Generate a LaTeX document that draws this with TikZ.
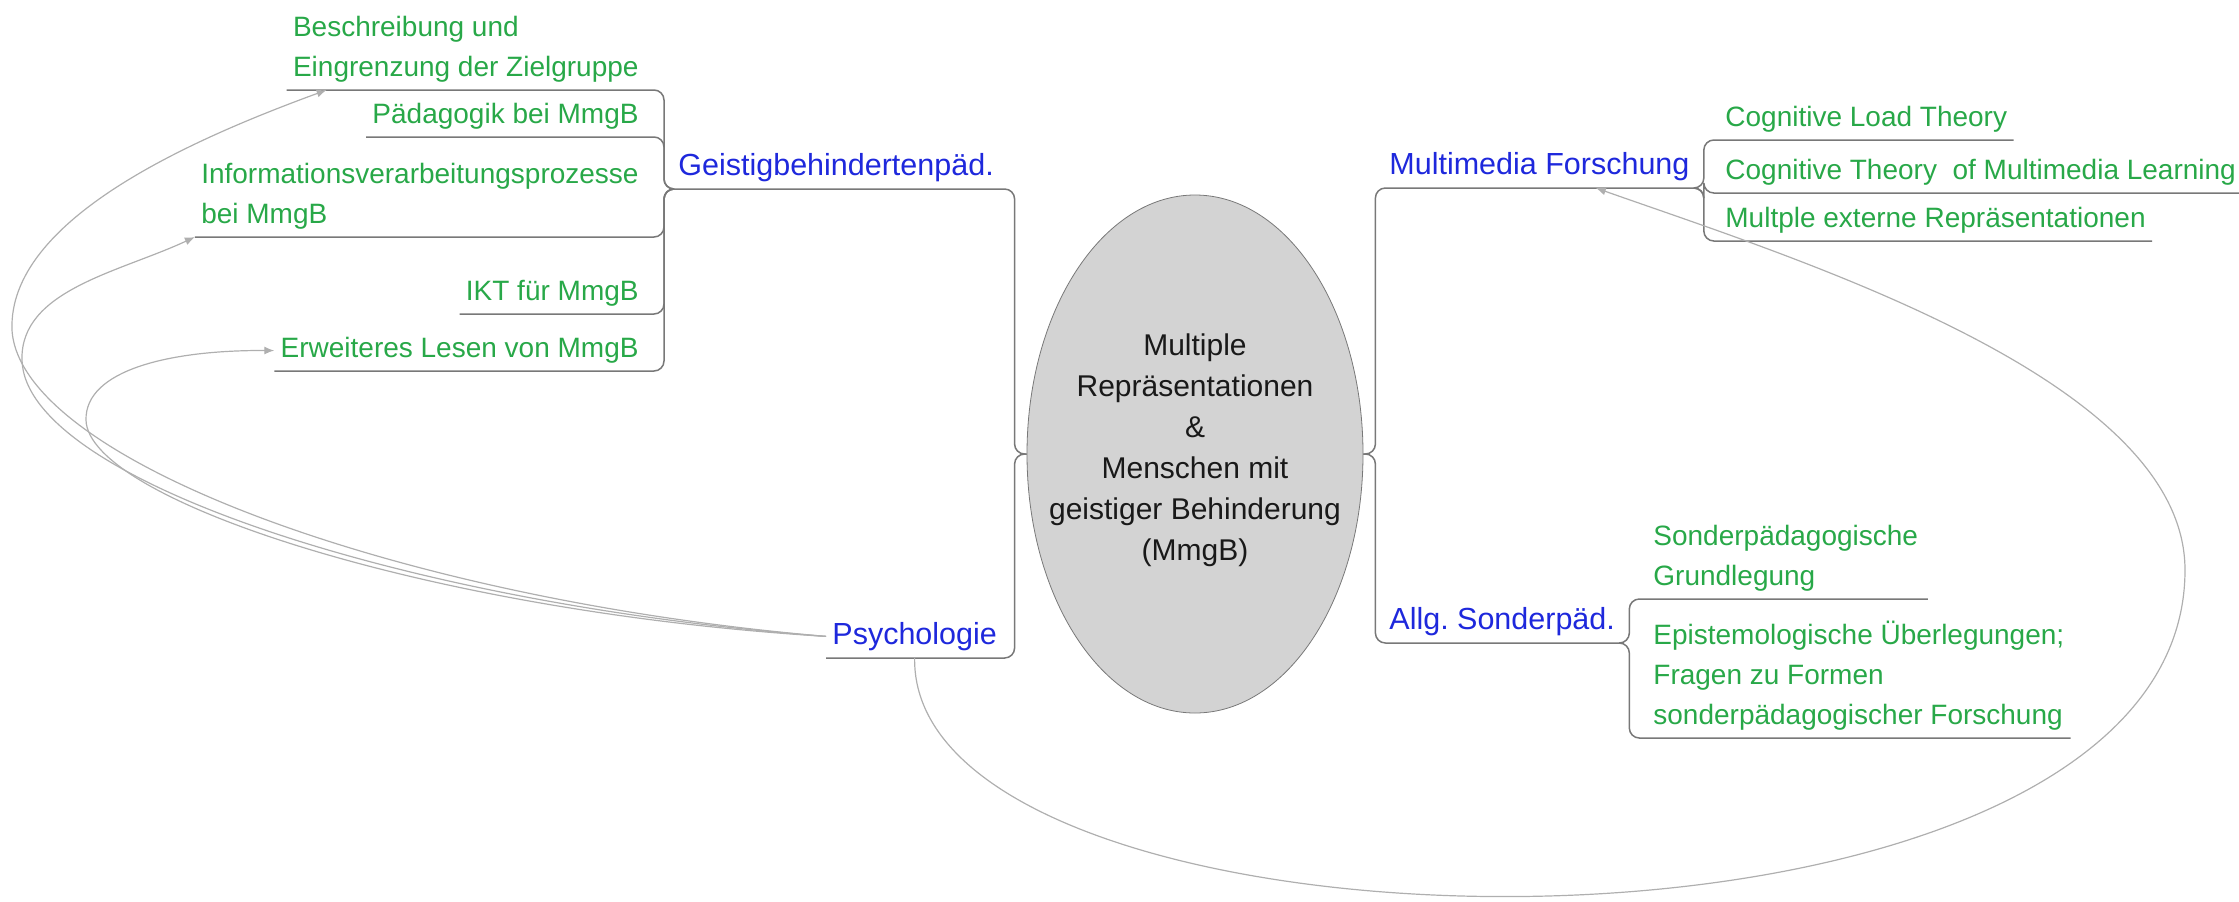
\documentclass[tikz,border=0pt]{standalone}
\usepackage{fontspec}
\setmainfont{Liberation Sans}
\usetikzlibrary{shapes.geometric,arrows.meta}
\definecolor{leafgreen}{RGB}{40,168,72}
\definecolor{topicblue}{RGB}{30,40,220}
\definecolor{centrefill}{RGB}{211,211,211}
\definecolor{branchgray}{RGB}{120,120,120}
\definecolor{relgray}{RGB}{175,175,175}
\frenchspacing

\begin{document}
\begin{tikzpicture}[x=0.5pt,y=-0.5pt,
    leaf/.style={text=leafgreen,font=\fontsize{14}{20}\selectfont,align=left,inner xsep=3pt,inner ysep=3.5pt},
    topic/.style={text=topicblue,font=\fontsize{15.25}{20}\selectfont,inner xsep=3pt,inner ysep=3.5pt},
    branch/.style={draw=branchgray,line width=0.75pt,rounded corners=5pt},
    relation/.style={draw=relgray,line width=0.6pt,-{Latex[length=5pt,width=4pt]}}]

    \useasboundingbox (0,0) rectangle (2239,901);

    \node[ellipse,draw=branchgray,fill=centrefill,minimum width=168pt,minimum height=259pt,inner sep=0pt] (ctr) at (1195,454) {};
    \node[align=center,font=\fontsize{15}{20.5}\selectfont,text=black!90] (ctrtext) at (1195,450) {Multiple\\Repräsentationen\\\&\\Menschen mit\\geistiger Behinderung\\(MmgB)};

    \node[topic,anchor=south west] (gbp) at (672,189) {Geistigbehindertenpäd.};
    \node[topic,anchor=south west] (psy) at (826,658) {Psychologie};
    \node[topic,anchor=south west] (mmf) at (1383,188) {Multimedia Forschung};
    \node[topic,anchor=south west] (asp) at (1383,643) {Allg. Sonderpäd.};

    \node[leaf,anchor=south east] (bes) at (645,90) {Beschreibung und\\Eingrenzung der Zielgruppe};
    \node[leaf,anchor=south east] (pae) at (645,137) {Pädagogik bei MmgB};
    \node[leaf,anchor=south east] (inf) at (645,237) {Informationsverarbeitungsprozesse\\bei MmgB};
    \node[leaf,anchor=south east] (ikt) at (645,314) {IKT für MmgB};
    \node[leaf,anchor=south east] (erw) at (645,371) {Erweiteres Lesen von MmgB};

    \node[leaf,anchor=south west] (clt) at (1719,140) {Cognitive Load Theory};
    \node[leaf,anchor=south west] (ctm) at (1719,193) {Cognitive Theory\ \ of Multimedia Learning};
    \node[leaf,anchor=south west] (mer) at (1719,241) {Multple externe Repräsentationen};
    \node[leaf,anchor=south west,text width=134pt] (sgl) at (1647,599) {Sonderpädagogische\\Grundlegung};
    \node[leaf,anchor=south west] (epi) at (1647,738) {Epistemologische Überlegungen;\\Fragen zu Formen\\sonderpädagogischer Forschung};

    \draw[branch] (ctr.west) -- ++(-12,0) |- (gbp.south west);
    \draw[branch] (ctr.west) -- ++(-12,0) |- (psy.south west);
    \draw[branch] (ctr.east) -- ++(12,0) |- (mmf.south east);
    \draw[branch] (ctr.east) -- ++(12,0) |- (asp.south east);

    \foreach \leaf in {bes,pae,inf,ikt,erw}
        \draw[branch] (gbp.south west) -- ++(-8,0) |- (\leaf.south west);
    \foreach \leaf in {clt,ctm,mer}
        \draw[branch] (mmf.south east) -- ++(8,0) |- (\leaf.south east);
    \foreach \leaf in {sgl,epi}
        \draw[branch] (asp.south east) -- ++(8,0) |- (\leaf.south east);

    \draw[relation] (psy.west) .. controls (400,600) and (20,460) .. (12,330) .. controls (8,220) and (190,140) .. ([xshift=20pt]bes.south west);
    \draw[relation] (psy.west) .. controls (410,605) and (25,480) .. (22,360) .. controls (20,290) and (120,272) .. (inf.south west);
    \draw[relation] (psy.west) .. controls (430,612) and (88,500) .. (86,420) .. controls (85,370) and (170,350) .. (erw.west);
    \draw[relation] (psy.south) .. controls (910,980) and (2185,1000) .. (2185,570) .. controls (2185,380) and (1800,260) .. ([xshift=-50pt]mmf.south east);
\end{tikzpicture}
\end{document}
